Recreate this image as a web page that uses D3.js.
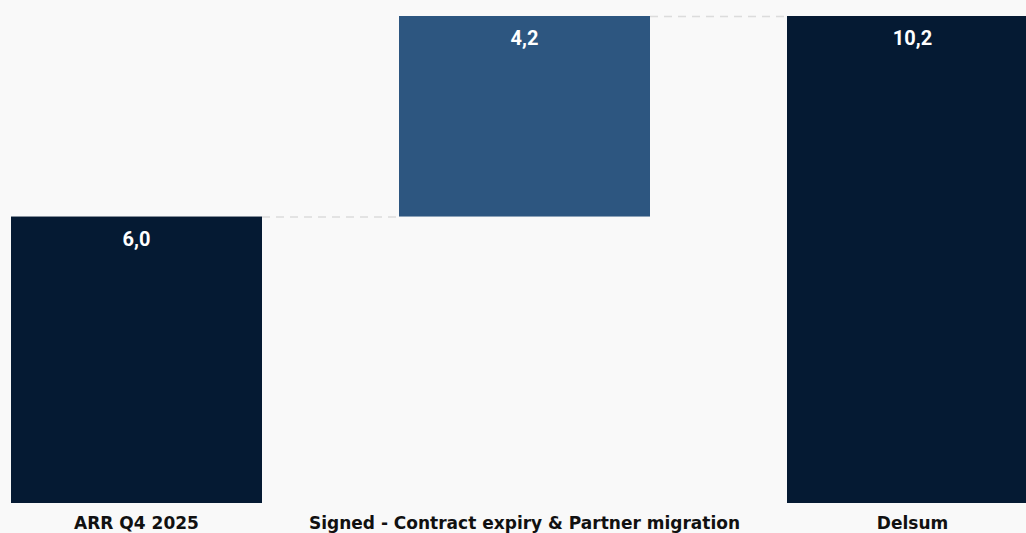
<!DOCTYPE html>
<html>
<head>
<meta charset="utf-8">
<script src="https://cdn.jsdelivr.net/npm/d3@7"></script>
<style>
  html, body { margin: 0; padding: 0; background: #f9f9f9; }
  svg { display: block; }
</style>
</head>
<body>
<svg id="chart"></svg>
<script>
// waterfall: start, increase, total
const categories = ['ARR Q4 2025', 'Signed - Contract expiry & Partner migration', 'Delsum'];
const values = [6.0, 4.2, 10.2];
const kinds = ['total', 'delta', 'total'];

const width = 1026;
const height = 533;

const colors = { total: '#051a33', delta: '#2d5680' };

// compute running base for each bar
let running = 0;
const bars = categories.map((c, i) => {
  let y0, y1;
  if (kinds[i] === 'total') {
    y0 = 0;
    y1 = values[i];
    running = values[i];
  } else {
    y0 = running;
    y1 = running + values[i];
    running = y1;
  }
  return { name: c, value: values[i], kind: kinds[i], y0, y1 };
});

const svg = d3.select('#chart')
  .attr('width', width)
  .attr('height', height);

const x = d3.scaleBand()
  .domain(categories)
  .range([11, 1038])
  .paddingInner(137 / 388)
  .paddingOuter(0);

const y = d3.scaleLinear()
  .domain([0, d3.max(bars, d => d.y1)])
  .range([503, 16]);

// connectors
const conn = svg.append('g').attr('class', 'connectors');
bars.slice(0, -1).forEach((d, i) => {
  const next = bars[i + 1];
  conn.append('line')
    .attr('x1', x(d.name) + x.bandwidth())
    .attr('x2', x(next.name))
    .attr('y1', y(d.y1) + 0.5)
    .attr('y2', y(d.y1) + 0.5)
    .attr('stroke', '#dcdcdc')
    .attr('stroke-width', 1.5)
    .attr('stroke-dasharray', '8,6');
});

const bar = svg.selectAll('.bar')
  .data(bars)
  .enter()
  .append('g')
  .attr('class', 'bar');

bar.append('rect')
  .attr('x', d => x(d.name))
  .attr('y', d => y(d.y1))
  .attr('width', x.bandwidth())
  .attr('height', d => y(d.y0) - y(d.y1))
  .attr('fill', d => colors[d.kind]);

bar.append('text')
  .attr('x', d => x(d.name) + x.bandwidth() / 2)
  .attr('y', d => y(d.y1) + 29)
  .attr('text-anchor', 'middle')
  .attr('fill', '#ffffff')
  .style('font-family', 'Roboto, "Open Sans", sans-serif')
  .style('font-weight', '700')
  .style('font-size', '20px')
  .text(d => d3.format('.1f')(d.value).replace('.', ','));

// category labels
svg.append('g')
  .selectAll('text')
  .data(categories)
  .enter()
  .append('text')
  .attr('x', d => x(d) + x.bandwidth() / 2)
  .attr('y', 529)
  .attr('text-anchor', 'middle')
  .attr('fill', '#111111')
  .style('font-family', '"DejaVu Sans", sans-serif')
  .style('font-weight', '700')
  .style('font-size', '17px')
  .text(d => d);
</script>
</body>
</html>
